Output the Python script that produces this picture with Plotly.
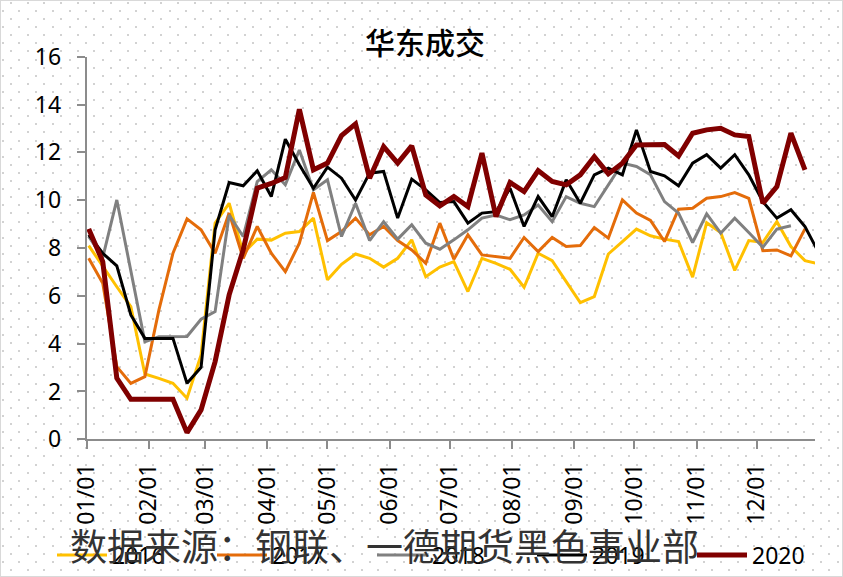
import pandas as pd
import plotly.graph_objects as go

# weekly points, plotted on a common calendar year
weeks = pd.date_range("2019-01-02", periods=53, freq="7D")

y2016 = [8.1, 7.22, 6.38, 5.55, 2.73, 2.55, 2.34, 1.72, 3.53, 9.04, 9.87, 7.78, 8.37,
         8.33, 8.62, 8.69, 9.25, 6.67, 7.32, 7.75, 7.57, 7.2, 7.57, 8.34, 6.8, 7.2,
         7.43, 6.18, 7.57, 7.36, 7.11, 6.36, 7.78, 7.47, 6.59, 5.72, 5.97, 7.75, 8.27,
         8.79, 8.51, 8.37, 8.27, 6.78, 9.06, 8.65, 7.06, 8.31, 8.23, 9.1, 8.06, 7.47, 7.33]
y2017 = [7.57, 6.53, 3.04, 2.34, 2.62, 5.41, 7.78, 9.22, 8.76, 7.78, 9.46, 7.57, 8.9,
         7.78, 7.01, 8.2, 10.32, 8.31, 8.69, 9.25, 8.55, 8.9, 8.31, 7.92, 7.36, 9.04,
         7.53, 8.55, 7.71, 7.64, 7.57, 8.44, 7.85, 8.44, 8.06, 8.1, 8.85, 8.41, 10.01,
         9.46, 9.15, 8.27, 9.62, 9.66, 10.08, 10.15, 10.32, 10.08, 7.89, 7.92, 7.67, 8.8]
y2018 = [8.48, 7.6, 10.01, 7.08, 4.08, 4.29, 4.3, 4.3, 5.02, 5.34, 9.38, 8.48, 10.78,
         11.27, 10.64, 12.1, 10.43, 10.85, 8.48, 9.87, 8.31, 9.1, 8.37, 8.97, 8.2, 7.95,
         8.34, 8.76, 9.25, 9.38, 9.18, 9.38, 9.8, 9.1, 10.15, 9.87, 9.73, 10.64, 11.55,
         11.41, 11.06, 9.94, 9.46, 8.23, 9.43, 8.62, 9.25, 8.65, 8.03, 8.79, 8.93]
y2019 = [8.55, 7.78, 7.25, 5.2, 4.22, 4.22, 4.22, 2.34, 3.01, 8.76, 10.74, 10.6, 11.23,
         10.15, 12.55, 11.48, 10.5, 11.38, 10.92, 10.01, 11.13, 11.2, 9.25, 10.88, 10.43,
         9.9, 9.94, 9.04, 9.46, 9.52, 10.5, 8.9, 10.15, 9.31, 10.85, 9.87, 11.06, 11.34,
         11.06, 12.94, 11.2, 11.02, 10.6, 11.55, 11.9, 11.34, 11.9, 11.06, 9.94, 9.25,
         9.6, 8.9, 7.78]
y2020 = [8.8, 7.43, 2.56, 1.67, 1.67, 1.67, 1.67, 0.28, 1.23, 3.25, 6.04, 7.92, 10.5,
         10.7, 10.95, 13.8, 11.27, 11.55, 12.7, 13.19, 10.92, 12.24, 11.55, 12.27, 10.22,
         9.76, 10.15, 9.73, 11.97, 9.31, 10.74, 10.36, 11.24, 10.78, 10.64, 11.06, 11.82,
         11.1, 11.55, 12.31, 12.33, 12.33, 11.85, 12.8, 12.94, 13.01, 12.73, 12.66, 9.87,
         10.57, 12.8, 11.27]

series = [("2016", y2016, "#FFC000", 3),
          ("2017", y2017, "#E46C0A", 3),
          ("2018", y2018, "#808080", 3),
          ("2019", y2019, "#000000", 3),
          ("2020", y2020, "#800000", 5)]

W, H = 843, 577
num_font = dict(family="Noto Sans", size=23, color="black")

fig = go.Figure()

# two empty subplots only used for the staggered dot background
fig.add_trace(go.Scatter(x=[], y=[], xaxis="x", yaxis="y", showlegend=False, hoverinfo="skip"))
fig.add_trace(go.Scatter(x=[], y=[], xaxis="x2", yaxis="y2", showlegend=False, hoverinfo="skip"))

for name, vals, color, width in series:
    fig.add_trace(go.Scatter(
        x=weeks[:len(vals)], y=vals, name=name, mode="lines",
        line=dict(color=color, width=width),
        xaxis="x3", yaxis="y3"))

dots = dict(showgrid=True, gridcolor="#d2d2d2", gridwidth=2, griddash="2px,14.7px",
            zeroline=False, showticklabels=False, ticks="", showline=False,
            domain=[0, 1], range=[H, 0], fixedrange=True)
hidden = dict(showgrid=False, zeroline=False, showticklabels=False, ticks="",
              showline=False, range=[0, W], fixedrange=True)

fig.update_layout(
    width=W, height=H, autosize=False,
    margin=dict(l=0, r=0, t=0, b=0, autoexpand=False),
    paper_bgcolor="white", plot_bgcolor="rgba(0,0,0,0)",
    showlegend=True,
    xaxis=dict(hidden, domain=[1.7 / W, 1], anchor="y"),
    yaxis=dict(dots, anchor="x", tick0=59.5, dtick=16.2),
    xaxis2=dict(hidden, domain=[9.9 / W, 1], anchor="y2"),
    yaxis2=dict(dots, anchor="x2", tick0=67.6, dtick=16.2),
    xaxis3=dict(
        type="date", anchor="y3",
        domain=[86.7 / W, 815 / W],
        range=["2019-01-01", "2019-12-30"],
        tick0="2019-01-01", dtick="M1", tickformat="%m/%d",
        tickangle=-90, tickfont=num_font,
        ticks="outside", ticklen=8, tickwidth=1.5, tickcolor="#8c8c8c",
        showline=True, linecolor="#8c8c8c", linewidth=2,
        showgrid=False, zeroline=False, ticklabelstandoff=5),
    yaxis3=dict(
        anchor="x3",
        domain=[(H - 439.3) / H, (H - 56.7) / H],
        range=[0, 16], dtick=2, tickfont=num_font,
        ticks="outside", ticklen=8, tickwidth=1.5, tickcolor="#8c8c8c",
        showline=True, linecolor="#8c8c8c", linewidth=2,
        showgrid=False, zeroline=False, ticklabelstandoff=11),
    title=dict(text="华东成交", x=425 / W, xanchor="center", y=1 - 43 / H, yanchor="middle",
               font=dict(family="Noto Sans CJK SC", size=30, color="black", weight=500)),
    legend=dict(orientation="h", x=52 / W, xanchor="left", y=1 - 555 / H, yanchor="middle",
                font=num_font, itemwidth=50, entrywidth=95, bgcolor="rgba(0,0,0,0)",
                traceorder="normal"),
    annotations=[dict(text="数据来源：钢联、一德期货黑色事业部", xref="paper", yref="paper",
                      x=68 / W, xanchor="left", y=1 - 545 / H, yanchor="middle",
                      showarrow=False,
                      font=dict(family="Noto Sans CJK SC", size=37, color="#333333"))],
    shapes=[dict(type="rect", xref="paper", yref="paper", x0=0, x1=1, y0=0, y1=1,
                 line=dict(color="#d9d9d9", width=2))],
)

fig.write_html("out.html", config={"displayModeBar": False},
               post_script="document.body.style.margin='0';")
